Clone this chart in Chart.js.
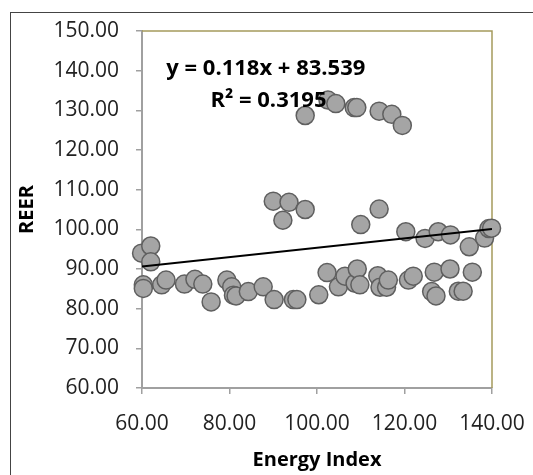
<!DOCTYPE html>
<html>
<head>
<meta charset="utf-8">
<script src="https://cdn.jsdelivr.net/npm/chart.js@4"></script>
<style>
  html, body { margin: 0; padding: 0; background: #fff; }
  #wrap { position: relative; width: 533px; height: 475px; overflow: hidden; background: #fff; }
  #frame { position: absolute; left: 10px; top: 12px; width: 700px; height: 700px; border: 1.5px solid #444; box-sizing: border-box; }
  canvas { position: absolute; left: 0; top: 0; }
</style>
</head>
<body>
<div id="wrap">
  <div id="frame"></div>
  <canvas id="scatter" width="533" height="475"></canvas>
</div>
<script>
// values
const energyIndex = [
  59.9, 62.0, 62.0, 60.3, 60.3, 64.5, 65.5, 69.7, 72.1, 73.9,
  75.8, 79.4, 80.5, 80.9, 81.5, 84.3, 87.7, 90.2, 94.6, 95.4,
  90.0, 93.6, 97.3, 92.2,
  97.3, 102.5, 104.3, 108.5, 109.1, 114.2, 117.1, 119.5,
  110.0, 114.2,
  100.4, 102.3, 104.9, 106.4, 108.7, 109.2, 109.8, 113.9, 114.4, 115.9,
  116.3, 120.9, 122.0, 126.2, 127.2, 126.8, 130.4, 132.3, 133.4, 135.5,
  120.3, 124.7, 127.7, 130.5, 134.8, 138.3, 139.3, 139.9
];
const reer = [
  94.0, 95.8, 91.8, 86.0, 85.1, 86.0, 87.2, 86.2, 87.4, 86.2,
  81.7, 87.2, 85.5, 83.4, 83.2, 84.3, 85.5, 82.3, 82.3, 82.3,
  107.1, 106.8, 105.0, 102.3,
  128.7, 132.6, 131.7, 130.7, 130.7, 129.8, 129.0, 126.2,
  101.2, 105.1,
  83.5, 89.1, 85.5, 88.2, 86.4, 90.0, 86.0, 88.3, 85.4, 85.4,
  87.2, 87.2, 88.2, 84.3, 83.2, 89.2, 90.0, 84.4, 84.4, 89.2,
  99.4, 97.7, 99.4, 98.6, 95.6, 97.8, 100.2, 100.3
];
// trend line ends as drawn
const trendX = [60, 140];
const trendY = [90.62, 100.06];
const eqText = 'y = 0.118x + 83.539';
const r2Text = 'R\u00B2 = 0.3195';
// where the equation sits, in data units
const eqPos = [88.3, 140.4];
const r2Pos = [88.9, 132.5];

const FONT = "'Open Sans', sans-serif";

const points = energyIndex.map((x, i) => ({ x: x, y: reer[i] }));
const trend = trendX.map((x, i) => ({ x: x, y: trendY[i] }));

// top and right edges of the plot in olive, like the original
const plotEdges = {
  id: 'plotEdges',
  beforeDatasetsDraw(chart) {
    const { ctx, chartArea: a } = chart;
    ctx.save();
    ctx.strokeStyle = '#a59b5c';
    ctx.lineWidth = 1.5;
    ctx.beginPath();
    ctx.moveTo(a.left, a.top);
    ctx.lineTo(a.right, a.top);
    ctx.lineTo(a.right, a.bottom);
    ctx.stroke();
    ctx.restore();
  }
};

const equationLabel = {
  id: 'equationLabel',
  afterDatasetsDraw(chart) {
    const { ctx, scales } = chart;
    ctx.save();
    ctx.fillStyle = '#000';
    ctx.font = 'bold 22px ' + FONT;
    ctx.textAlign = 'center';
    ctx.textBaseline = 'middle';
    ctx.fillText(eqText, scales.x.getPixelForValue(eqPos[0]), scales.y.getPixelForValue(eqPos[1]));
    ctx.fillText(r2Text, scales.x.getPixelForValue(r2Pos[0]), scales.y.getPixelForValue(r2Pos[1]));
    ctx.restore();
  }
};

new Chart(document.getElementById('scatter'), {
  type: 'scatter',
  data: {
    datasets: [
      {
        type: 'line', data: trend, borderColor: '#000', borderWidth: 2,
        pointRadius: 0, fill: false, tension: 0, order: 0
      },
      {
        data: points, backgroundColor: '#a5a5a5', borderColor: '#5f5f5f',
        borderWidth: 1.5, pointRadius: 9, pointHoverRadius: 9, clip: false, order: 1
      }
    ]
  },
  options: {
    responsive: false,
    animation: false,
    events: [],
    layout: { padding: { left: 0, right: 41, top: 31, bottom: 0 } },
    plugins: { legend: { display: false }, tooltip: { enabled: false } },
    scales: {
      x: {
        type: 'linear', min: 60, max: 140,
        afterFit: s => { s.height = 87; s.paddingLeft = 0; s.paddingRight = 0; },
        ticks: { stepSize: 20, padding: 17, color: '#222', font: { family: FONT, size: 21 }, callback: v => v.toFixed(2) },
        grid: { drawOnChartArea: false, drawTicks: true, tickLength: 6, tickColor: '#a0a0a0', lineWidth: 1.5 },
        border: { color: '#a0a0a0', width: 2 },
        title: { display: true, text: 'Energy Index', color: '#000', font: { family: FONT, size: 20, weight: 'bold' }, padding: { top: 0, bottom: 3 } }
      },
      y: {
        type: 'linear', min: 60, max: 150,
        afterFit: s => { s.width = 142; s.paddingTop = 0; s.paddingBottom = 0; },
        ticks: { stepSize: 10, padding: 17, color: '#222', font: { family: FONT, size: 21 }, callback: v => v.toFixed(2) },
        grid: { drawOnChartArea: false, drawTicks: true, tickLength: 6, tickColor: '#a0a0a0', lineWidth: 1.5 },
        border: { color: '#a0a0a0', width: 2 },
        title: { display: true, text: 'REER', color: '#000', font: { family: FONT, size: 20, weight: 'bold' }, padding: { top: 15, bottom: 0 } }
      }
    }
  },
  plugins: [plotEdges, equationLabel]
});
</script>
</body>
</html>
